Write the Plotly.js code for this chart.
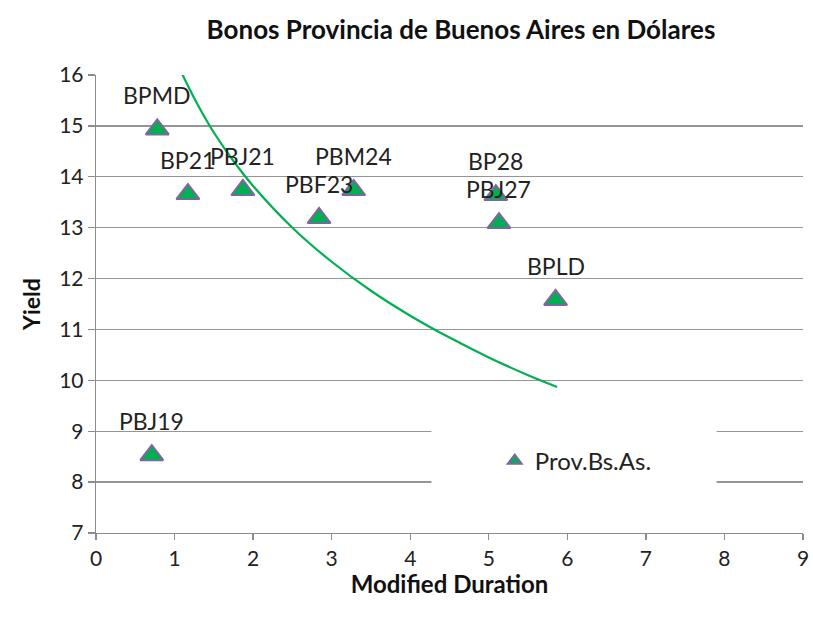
<!DOCTYPE html>
<html>
<head>
<meta charset="utf-8">
<script src="https://cdn.plot.ly/plotly-3.0.1.min.js"></script>
<style>html,body{margin:0;padding:0;background:#fff}#chart{width:813px;height:620px}</style>
</head>
<body>
<div id="chart"></div>
<script>
// Bond data (Modified Duration vs Yield)
const bondNames = ["BPMD", "BP21", "PBJ21", "PBF23", "PBM24", "BP28", "PBJ27", "BPLD", "PBJ19"];
const duration  = [0.78, 1.17, 1.87, 2.84, 3.28, 5.09, 5.13, 5.85, 0.71];
const yieldPct  = [14.93, 13.66, 13.74, 13.19, 13.74, 13.64, 13.09, 11.58, 8.53];

// Trend curve
const curveX = [1.09, 1.3, 1.5, 1.75, 2.0, 2.5, 3.0, 3.5, 4.0, 4.5, 5.0, 5.5, 5.87];
const curveY = [16.04, 15.40, 14.87, 14.31, 13.82, 13.00, 12.33, 11.76, 11.27, 10.84, 10.45, 10.10, 9.87];

const xTicks = [0, 1, 2, 3, 4, 5, 6, 7, 8, 9];
const yTicks = [7, 8, 9, 10, 11, 12, 13, 14, 15, 16];

const FONT = "Lato, 'Open Sans', sans-serif";

const traces = [
  {
    x: curveX, y: curveY, type: "scatter", mode: "lines",
    line: {color: "#00B050", width: 2.2, shape: "spline"},
    showlegend: false, hoverinfo: "skip"
  },
  {
    x: duration, y: yieldPct, type: "scatter", mode: "markers",
    name: "Prov.Bs.As.",
    marker: {symbol: "triangle-up", size: 20, color: "#00B050",
             line: {color: "#8064A2", width: 2}}
  }
];

const annotations = bondNames.map((n, i) => ({
  x: duration[i], y: yieldPct[i], xref: "x", yref: "y",
  text: n, showarrow: false, yshift: 34,
  font: {family: FONT, size: 23, color: "#222"}
}));

const layout = {
  width: 813, height: 620,
  margin: {l: 96, r: 10, t: 75, b: 87},
  paper_bgcolor: "#fff", plot_bgcolor: "#fff",
  font: {family: FONT, color: "#222"},
  title: {text: "<b>Bonos Provincia de Buenos Aires en Dólares</b>",
          x: 0.567, xanchor: "center", y: 0.952, yanchor: "middle",
          font: {family: FONT, size: 26, color: "#111"}},
  xaxis: {
    range: [0, 9], tickvals: xTicks, ticktext: xTicks.map(String),
    showgrid: false, zeroline: false,
    showline: true, linecolor: "#8c8c8c", linewidth: 1.3,
    ticks: "outside", ticklen: 6, tickcolor: "#8c8c8c", tickwidth: 1.3,
    tickfont: {family: FONT, size: 21, color: "#222"},
    title: {text: "<b>Modified Duration</b>", standoff: 2,
            font: {family: FONT, size: 24, color: "#111"}}
  },
  yaxis: {
    range: [7, 16], tickvals: yTicks, ticktext: yTicks.map(String),
    showgrid: true, gridcolor: "#959595", gridwidth: 1.3,
    zeroline: false,
    showline: true, linecolor: "#8c8c8c", linewidth: 1.3,
    ticks: "outside", ticklen: 7, tickcolor: "#8c8c8c", tickwidth: 1.3,
    tickfont: {family: FONT, size: 21, color: "#222"},
    title: {text: "<b>Yield</b>", standoff: 12,
            font: {family: FONT, size: 23, color: "#111"}}
  },
  shapes: [{
    type: "rect", xref: "x", yref: "y", layer: "between",
    x0: 4.27, x1: 7.9, y0: 7.88, y1: 9.12,
    fillcolor: "#fff", line: {width: 0}
  }],
  legend: {
    x: 0.564, y: 0.157, xanchor: "left", yanchor: "middle",
    bgcolor: "rgba(0,0,0,0)", itemsizing: "constant",
    font: {family: FONT, size: 24, color: "#222"}
  },
  annotations: annotations
};

Plotly.newPlot("chart", traces, layout, {displayModeBar: false, staticPlot: true});
</script>
</body>
</html>
